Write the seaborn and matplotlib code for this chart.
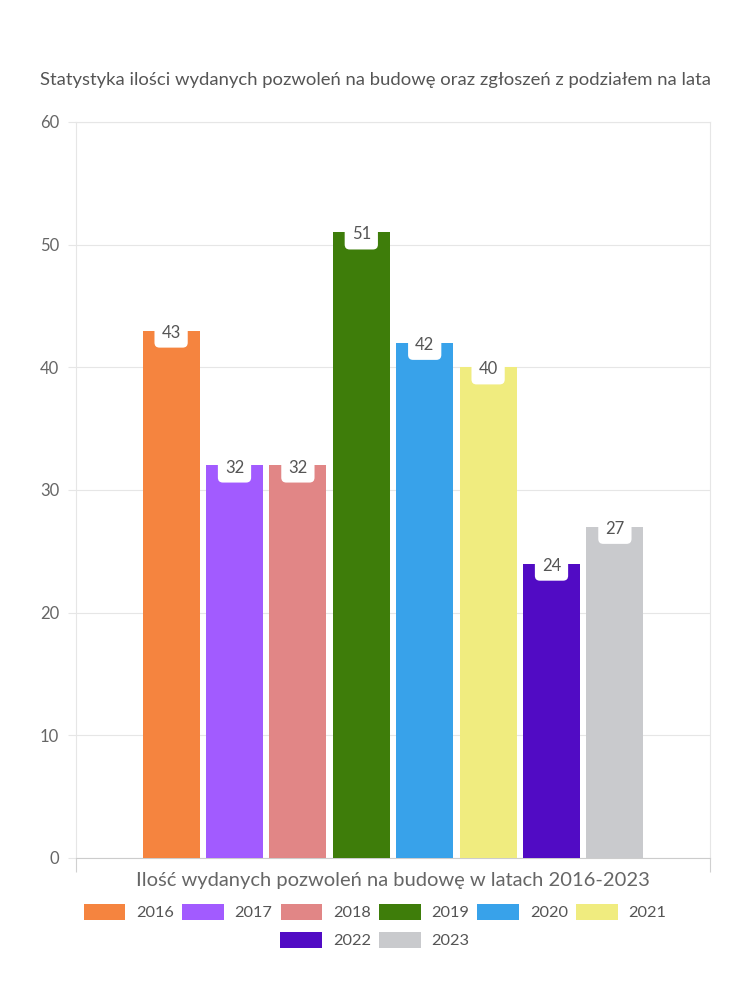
import matplotlib
matplotlib.use("Agg")
import matplotlib.pyplot as plt
import matplotlib.patches as mpatches
import seaborn as sns
import pandas as pd

years = ["2016", "2017", "2018", "2019", "2020", "2021", "2022", "2023"]
values = [43, 32, 32, 51, 42, 40, 24, 27]
colors = ["#F5843F", "#A25BFF", "#E18686", "#3E7D0A", "#38A2EA", "#F0EC7F", "#510BC4", "#C9CACD"]
category = "Ilość wydanych pozwoleń na budowę w latach 2016-2023"
title = "Statystyka ilości wydanych pozwoleń na budowę oraz zgłoszeń z podziałem na lata"
yticks = [0, 10, 20, 30, 40, 50, 60]

sns.set_theme(style="white")
plt.rcParams["font.family"] = ["Lato", "DejaVu Sans"]

df = pd.DataFrame({"cat": [category] * len(years), "year": years, "value": values})

fig = plt.figure(figsize=(7.5, 10), dpi=100)
ax = fig.add_axes([76 / 750, 1 - 858 / 1000, (710 - 76) / 750, (858 - 122) / 1000])

sns.barplot(data=df, x="cat", y="value", hue="year", hue_order=years,
            palette=colors, width=0.8, gap=0.1, saturation=1, legend=False,
            ax=ax, zorder=3, linewidth=0)

ax.set_xlim(-0.5, 0.5)
ax.set_ylim(0, 60)
ax.set_yticks(yticks)
ax.set_yticklabels([str(t) for t in yticks])
ax.yaxis.grid(True, color="#e6e6e6", linewidth=0.8, zorder=0)
ax.set_axisbelow(True)
ax.tick_params(axis="y", colors="#e6e6e6", labelcolor="#666666", labelsize=12,
               length=6, width=0.8, left=True, pad=6)
ax.set_xticks([-0.5, 0.5])
ax.set_xticklabels(["", ""])
ax.tick_params(axis="x", colors="#d0d0d0", length=10, width=0.8, bottom=True)

for name, sp in ax.spines.items():
    sp.set_color("#e6e6e6")
    sp.set_linewidth(0.8)
ax.spines["bottom"].set_color("#cccccc")

ax.set_xlabel(category, fontsize=14.5, color="#666666")
ax.set_ylabel("")
ax.xaxis.set_label_coords(0.5, -0.019)
ax.xaxis.label.set_va("top")

for container in ax.containers:
    for bar in container:
        h = bar.get_height()
        ax.annotate(f"{h:.0f}", (bar.get_x() + bar.get_width() / 2, h),
                    xytext=(0, -1.5), textcoords="offset points",
                    ha="center", va="center", fontsize=12, color="#555555", zorder=5,
                    bbox=dict(boxstyle="round,pad=0.42,rounding_size=0.3",
                              fc="white", ec="none"))

fig.text(0.5, 0.92, title, ha="center", va="center", fontsize=13.3, color="#555555")

handles = [mpatches.Patch(facecolor=c, edgecolor="none") for c in colors]
common = dict(frameon=False, fontsize=11.8, handlelength=2.55, handleheight=1.1,
              handletextpad=0.65, columnspacing=0.5, labelcolor="#555555", loc="center",
              borderaxespad=0, borderpad=0)
fig.legend(handles[:6], years[:6], ncol=6, bbox_to_anchor=(0.5, 1 - 912 / 1000), **common)
fig.legend(handles[6:], years[6:], ncol=2, bbox_to_anchor=(0.5, 1 - 940 / 1000), **common)

fig.savefig("out.png", dpi=100, facecolor="white")
